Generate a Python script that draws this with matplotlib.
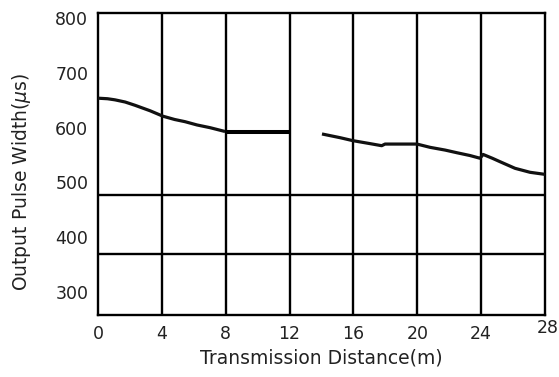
import numpy as np
import matplotlib.pyplot as plt
from matplotlib.transforms import ScaledTranslation

# curve (distance in m, pulse width in us)
seg1_x = [0.0, 0.6, 1.06, 1.7, 2.32, 3.26, 4.07, 4.8, 5.45, 6.2, 7.02, 7.96]
seg1_y = [654, 653, 651, 647, 641, 631, 621, 615, 611, 605, 600, 593]
flat1_x = [8.0, 12.0]
flat1_y = [592, 592]
seg2_x = [14.03, 15.16, 15.97, 17.0, 17.77, 17.98, 19.98, 20.8, 21.74, 22.5, 23.3, 23.93, 24.12, 24.7, 25.18, 26.12, 27.06, 28.0]
seg2_y = [588.5, 581.7, 576.2, 571, 567, 570, 570, 564, 559, 554, 549, 544, 551, 544, 537.7, 525.6, 518.3, 514.5]

x_ticks = [0, 4, 8, 12, 16, 20, 24, 28]
y_ticks = [300, 400, 500, 600, 700, 800]
v_grid = [4, 8, 12, 16, 20, 24]
h_grid = [369, 477]

fig = plt.figure(figsize=(5.59, 3.77), dpi=100)
ax = fig.add_axes([0.1753, 0.1645, 0.7997, 0.801])

ax.set_xlim(0, 28)
ax.set_ylim(257, 810)

for x in v_grid:
    ax.axvline(x, color='black', lw=1.7, zorder=1)
for y in h_grid:
    ax.axhline(y, color='black', lw=1.7, zorder=1)

ax.plot(seg1_x, seg1_y, color='#111111', lw=2.3, solid_capstyle='butt', solid_joinstyle='round', zorder=3)
ax.plot(flat1_x, flat1_y, color='black', lw=2.9, solid_capstyle='butt', zorder=3)
ax.plot(seg2_x, seg2_y, color='#111111', lw=2.3, solid_capstyle='butt', solid_joinstyle='round', zorder=3)

for s in ax.spines.values():
    s.set_linewidth(1.7)
    s.set_color('black')

ax.set_xticks(x_ticks)
ax.set_yticks(y_ticks)
ax.tick_params(axis='both', length=0, labelsize=12.5, labelcolor='#222222', pad=7)
ax.set_yticks([700], minor=True)
ax.tick_params(axis='y', which='minor', direction='in', length=6, width=1, color='#555555')

# the last x label sits a little higher in the original
lab = ax.get_xticklabels()[-1]
lab.set_transform(lab.get_transform() + ScaledTranslation(0.03, 0.06, fig.dpi_scale_trans))

ax.set_xlabel('Transmission Distance(m)', fontsize=13.5, color='#222222', labelpad=4)
ax.set_ylabel(r'Output Pulse Width($\mu$s)', fontsize=13.5, color='#222222', labelpad=12)
ax.yaxis.set_label_coords(-0.145, 0.44)

fig.savefig('out.png', dpi=100)
